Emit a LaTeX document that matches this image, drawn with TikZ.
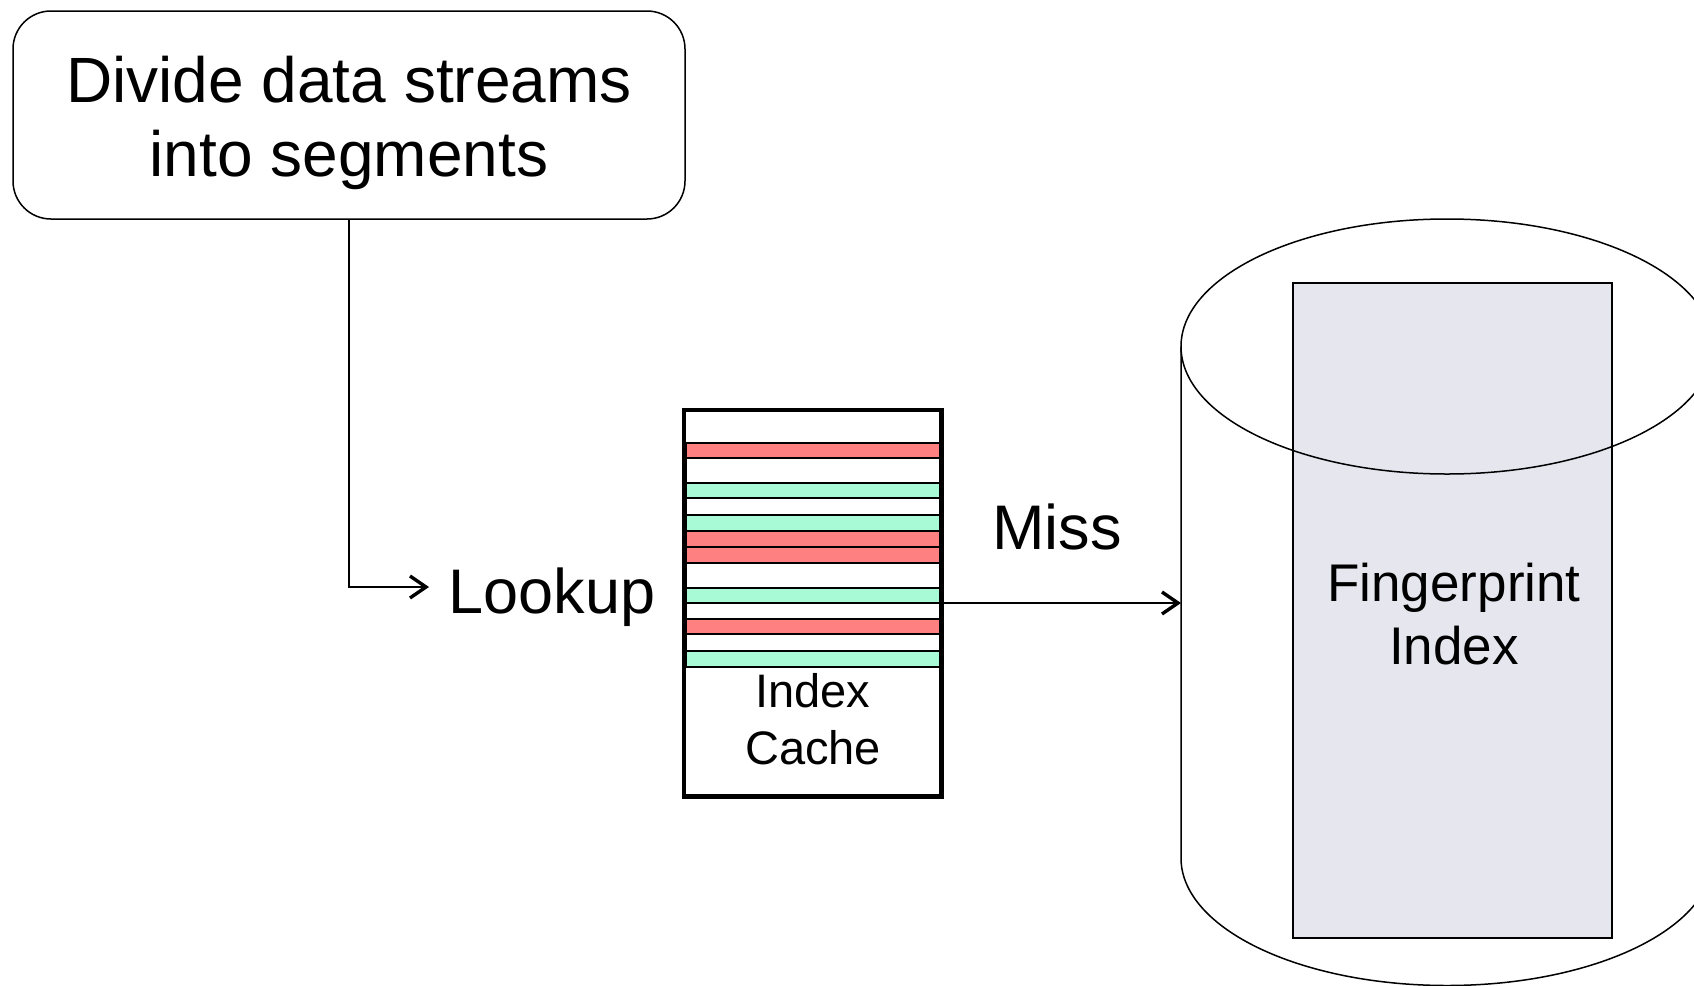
\documentclass[tikz,border=0pt]{standalone}
\usepackage{fontspec}
\setmainfont{Liberation Sans}
\usetikzlibrary{arrows.meta}
\definecolor{rowred}{RGB}{255,128,128}
\definecolor{rowgreen}{RGB}{168,250,214}
\definecolor{idxfill}{RGB}{229,230,238}
\begin{document}
\begin{tikzpicture}[x=0.5pt,y=-0.5pt,
  thin line/.style={line width=0.75pt},
  flowarrow/.style={thin line,-{Straight Barb[length=8pt,width=11pt,line width=1.7pt]}},
  rowbox/.style={line width=0.7pt}]
\useasboundingbox (0,0) rectangle (1694,986);
\clip (0,0) rectangle (1694,986);

% top box
\node[draw, thin line, rounded corners=19pt, minimum width=336pt, minimum height=104pt] (divide) at (349,115) {};
\node[align=center, font=\fontsize{32}{37}\selectfont] (dividetext) at (349,123)
      {Divide data streams\\into segments};

% lookup
\node[font=\fontsize{31.5}{36}\selectfont, inner sep=0] (lookup) at (552,597) {Lookup};
\coordinate (lk) at (429,587);
\draw[flowarrow] (divide.south) |- (lk);

% index cache
\node[minimum width=128.5pt, minimum height=193pt, inner sep=0] (cache) at (812.5,603) {};
\foreach \a/\b/\c in {443/458/rowred, 458/483/white, 483/498/rowgreen, 498/515/white,
  515/531/rowgreen, 531/547/rowred, 547/563/rowred, 563/588/white, 588/603/rowgreen,
  603/619/white, 619/634/rowred, 634/651/white, 651/667/rowgreen}
  \draw[rowbox, fill=\c] (686,\a) rectangle (940,\b);
\draw[line width=2.1pt] (cache.north west) rectangle (cache.south east);
\node[font=\fontsize{23.5}{28.5}\selectfont, align=center] (cachelabel) at (813,719) {Index\\Cache};

% cylinder
\draw[thin line] (1181,346.5) -- (1181,858) arc[start angle=180, end angle=360, x radius=133pt, y radius=63.75pt]
  -- (1713,346.5);
\node[draw, thin line, fill=idxfill, minimum width=159.5pt, minimum height=327.5pt, inner sep=0] (fpbox) at (1452.5,610.5) {};
\draw[thin line] (1447,346.5) ellipse [x radius=133pt, y radius=63.75pt];
\node[font=\fontsize{26.5}{31.5}\selectfont, align=center] (fp) at (1454,614) {Fingerprint\\Index};

% miss
\coordinate (cylwest) at (1181,603);
\draw[flowarrow] (cache.east) -- (cylwest);
\node[font=\fontsize{31.5}{36}\selectfont, inner sep=0] (miss) at (1057,527) {Miss};
\end{tikzpicture}
\end{document}
